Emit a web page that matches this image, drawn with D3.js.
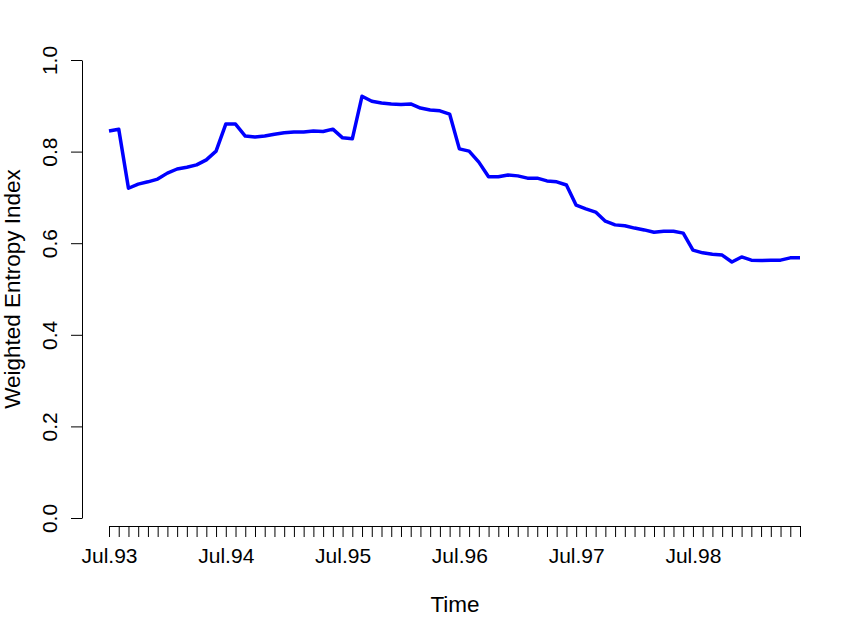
<!DOCTYPE html>
<html>
<head>
<meta charset="utf-8">
<script src="https://cdn.jsdelivr.net/npm/d3@7"></script>
<style>
  body { margin: 0; background: #fff; }
  text { font-family: "Liberation Sans", Arial, Helvetica, sans-serif; }
</style>
</head>
<body>
<svg id="chart" width="851" height="638"></svg>
<script>
// monthly weighted entropy index, Jul.93 .. Jun.99
var entropy = [0.845, 0.849, 0.720, 0.729, 0.734, 0.740, 0.753, 0.762, 0.766, 0.771, 0.782, 0.801,
               0.860, 0.860, 0.834, 0.832, 0.834, 0.838, 0.841, 0.843, 0.843, 0.845, 0.844, 0.849,
               0.830, 0.828, 0.921, 0.910, 0.906, 0.904, 0.903, 0.904, 0.895, 0.891, 0.889, 0.882,
               0.806, 0.801, 0.777, 0.745, 0.745, 0.749, 0.747, 0.742, 0.742, 0.736, 0.734, 0.727,
               0.683, 0.675, 0.668, 0.648, 0.640, 0.638, 0.633, 0.629, 0.624, 0.626, 0.626, 0.622,
               0.585, 0.579, 0.576, 0.574, 0.559, 0.570, 0.563, 0.562, 0.563, 0.563, 0.568, 0.568]
var yearLabels = ["Jul.93", "Jul.94", "Jul.95", "Jul.96", "Jul.97", "Jul.98"]
var yTicks = [0, 0.2, 0.4, 0.6, 0.8, 1.0]

var svg = d3.select("#chart")

var x = d3.scaleLinear().domain([0, entropy.length - 1]).range([109, 800])
var y = d3.scaleLinear().domain([0, 1]).range([518, 60])

// x axis: a tick for every month, labels on each July
var xAxis = d3.axisBottom(x)
  .tickValues(d3.range(entropy.length))
  .tickSizeOuter(0)
  .tickSize(11)
  .tickFormat(function(d) { return d % 12 == 0 ? yearLabels[d / 12] : "" })

var gx = svg.append("g").attr("transform", "translate(0,526)").call(xAxis)
gx.selectAll("text")
  .attr("font-size", "21px").attr("fill", "#000").attr("font-family", null)
  .attr("y", 37).attr("dy", null)
gx.selectAll("line").attr("stroke", "#000")
gx.select(".domain").attr("stroke", "#000")

// y axis, labels rotated like R's default las=0
var yAxis = d3.axisLeft(y).tickValues(yTicks).tickSize(11).tickSizeOuter(0)
  .tickFormat(d3.format(".1f"))
var gy = svg.append("g").attr("transform", "translate(82,0)").call(yAxis)
gy.selectAll("line").attr("stroke", "#000")
gy.select(".domain").attr("stroke", "#000")
gy.selectAll("text")
  .attr("font-family", null)
  .attr("font-size", "21px")
  .attr("fill", "#000")
  .attr("x", null).attr("dy", null)
  .attr("text-anchor", "middle")
  .attr("transform", "translate(-25,0) rotate(-90)")

// titles
svg.append("text").attr("x", 455).attr("y", 612).attr("text-anchor", "middle")
  .attr("font-size", "22.5px").text("Time")
svg.append("text").attr("transform", "translate(20,289) rotate(-90)").attr("text-anchor", "middle")
  .attr("font-size", "22.5px").text("Weighted Entropy Index")

// series
var line = d3.line().x(function(d, i) { return x(i) }).y(function(d) { return y(d) })
svg.append("path").datum(entropy)
  .attr("d", line)
  .attr("fill", "none")
  .attr("stroke", "#0000ff")
  .attr("stroke-width", 3.5)
  .attr("stroke-linejoin", "round")
</script>
</body>
</html>
